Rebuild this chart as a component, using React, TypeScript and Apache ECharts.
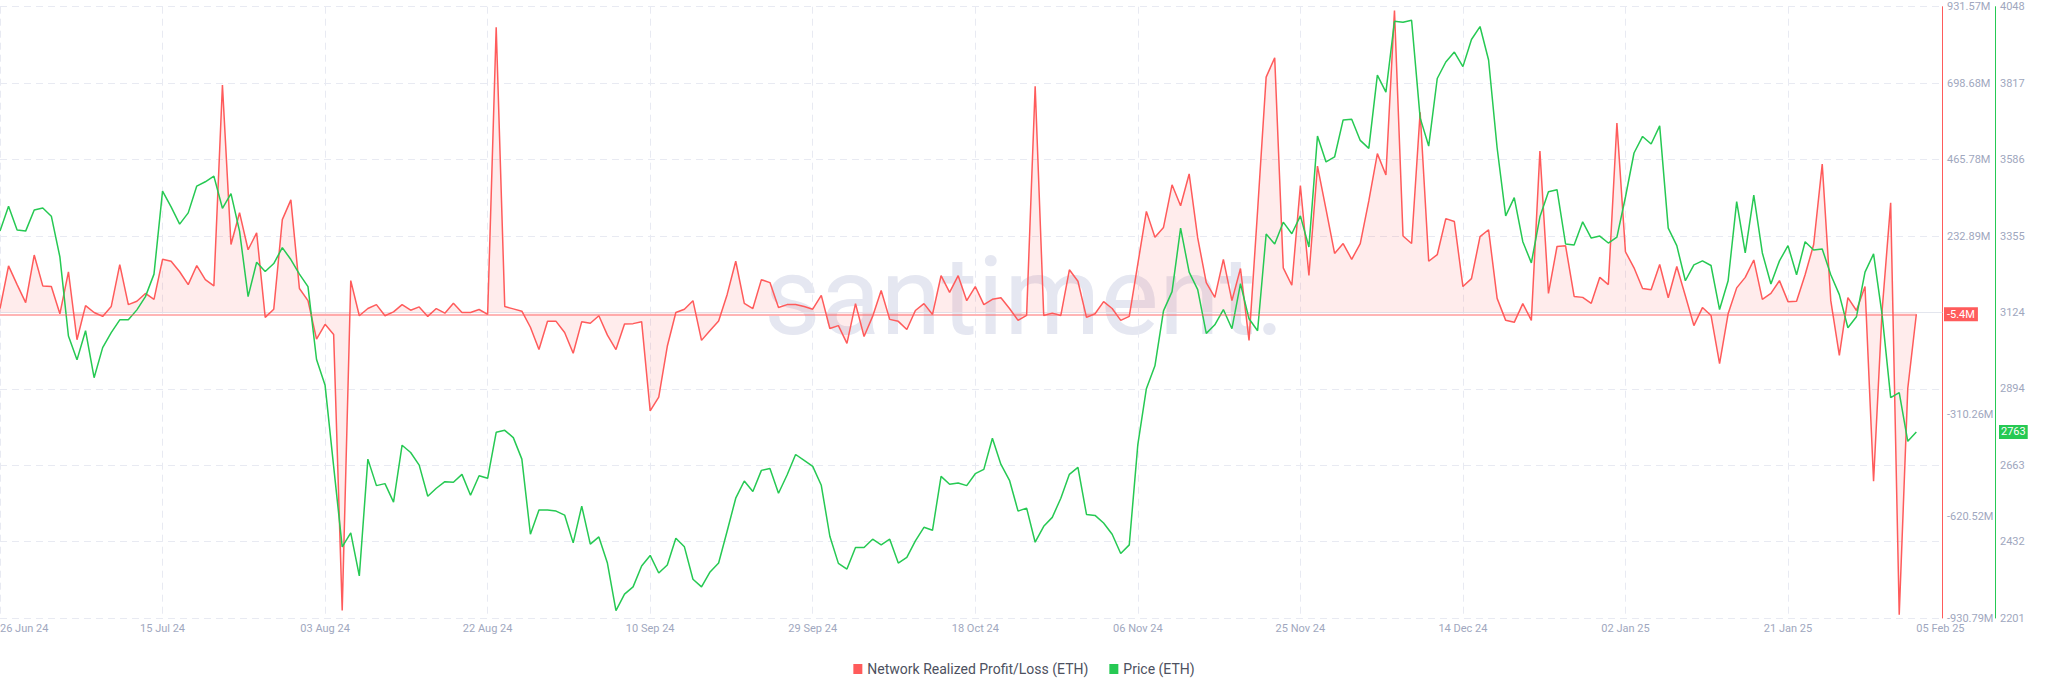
import React, { useEffect, useRef } from "react";
import * as echarts from "echarts";

// ---------- categories (daily, 26 Jun 24 → 08 Feb 25; data ends 05 Feb 25) ----------
const MONTHS = ["Jan", "Feb", "Mar", "Apr", "May", "Jun", "Jul", "Aug", "Sep", "Oct", "Nov", "Dec"];
const START_UTC = Date.UTC(2024, 5, 26);
const AXIS_DAYS = 228;
const categories: string[] = [];
for (let i = 0; i < AXIS_DAYS; i++) {
  const d = new Date(START_UTC + i * 86400000);
  categories.push(
    `${String(d.getUTCDate()).padStart(2, "0")} ${MONTHS[d.getUTCMonth()]} ${String(d.getUTCFullYear()).slice(2)}`
  );
}

const tickLabels = [
  "26 Jun 24", "15 Jul 24", "03 Aug 24", "22 Aug 24", "10 Sep 24", "29 Sep 24", "18 Oct 24",
  "06 Nov 24", "25 Nov 24", "14 Dec 24", "02 Jan 25", "21 Jan 25", "05 Feb 25",
];

// ---------- Network Realized Profit/Loss (ETH), millions ----------
const realizedPL = [
  12, 142, 85, 30, 175, 81, 79, -4, 124, -83,
  21, 0, -12, 18, 146, 24, 34, 58, 40, 162,
  156, 124, 85, 143, 100, 81, 693, 207, 304, 191,
  243, -15, 10, 283, 343, 73, 36, -81, -36, -67,
  -908, 97, -10, 12, 24, -10, 2, 24, 7, 17,
  -12, 12, -2, 28, 0, 0, 9, -6, 869, 18,
  11, 4, -45, -113, -27, -27, -61, -124, -28, -33,
  -10, -69, -113, -35, -34, -28, -300, -258, -103, 0,
  10, 36, -85, -55, -26, 55, 156, 28, 12, 100,
  91, 15, 24, 24, 18, 10, 52, -49, -40, -94,
  27, -73, -12, 67, -21, -27, -52, 6, 27, -6,
  112, 61, 112, 36, 79, 24, 40, 45, 12, -24,
  -9, 689, -9, -2, -9, 130, 95, -15, -4, 33,
  12, -24, -12, 148, 308, 229, 259, 389, 325, 422,
  227, 91, 46, 162, 36, 134, -85, 310, 717, 776,
  136, 83, 387, 113, 446, 314, 180, 210, 162, 210,
  340, 484, 419, 920, 233, 210, 610, 156, 176, 286,
  277, 79, 103, 231, 252, 43, -24, -30, 27, -24,
  492, 58, 201, 203, 49, 46, 28, 107, 85, 577,
  185, 136, 73, 69, 146, 45, 140, 51, -40, 15,
  -9, -156, -4, 75, 107, 160, 40, 58, 97, 33,
  34, 115, 207, 452, 36, -131, 45, 6, 79, -514,
  6, 334, -921, -231, -5.4,
];

// ---------- Price (ETH), USD ----------
const price = [
  3370, 3445, 3373, 3370, 3434, 3440, 3415, 3292, 3053, 2981,
  3069, 2927, 3018, 3063, 3102, 3102, 3132, 3172, 3240, 3491,
  3443, 3391, 3425, 3506, 3519, 3536, 3439, 3483, 3370, 3172,
  3276, 3248, 3272, 3320, 3284, 3240, 3202, 2982, 2904, 2659,
  2416, 2458, 2328, 2681, 2601, 2607, 2551, 2723, 2701, 2663,
  2569, 2593, 2613, 2611, 2635, 2572, 2631, 2623, 2762, 2768,
  2746, 2681, 2454, 2527, 2527, 2524, 2512, 2428, 2539, 2424,
  2446, 2367, 2223, 2273, 2295, 2358, 2390, 2337, 2361, 2442,
  2416, 2318, 2295, 2340, 2367, 2464, 2563, 2615, 2583, 2647,
  2653, 2578, 2633, 2695, 2677, 2659, 2602, 2448, 2366, 2349,
  2414, 2414, 2439, 2422, 2439, 2367, 2384, 2434, 2475, 2466,
  2629, 2605, 2609, 2601, 2637, 2650, 2744, 2665, 2617, 2524,
  2533, 2430, 2478, 2505, 2563, 2635, 2656, 2514, 2511, 2488,
  2454, 2396, 2422, 2725, 2894, 2963, 3129, 3187, 3379, 3246,
  3193, 3061, 3087, 3133, 3075, 3211, 3105, 3069, 3361, 3331,
  3397, 3362, 3416, 3322, 3657, 3579, 3594, 3706, 3708, 3644,
  3620, 3841, 3790, 4004, 4001, 4007, 3712, 3627, 3831, 3881,
  3911, 3867, 3949, 3988, 3887, 3621, 3416, 3471, 3338, 3274,
  3413, 3489, 3495, 3331, 3328, 3398, 3349, 3355, 3334, 3352,
  3473, 3606, 3656, 3633, 3688, 3379, 3326, 3220, 3268, 3280,
  3266, 3133, 3220, 3459, 3304, 3479, 3304, 3210, 3280, 3326,
  3238, 3338, 3313, 3316, 3238, 3178, 3078, 3111, 3246, 3301,
  3117, 2867, 2882, 2735, 2763,
];

// ---------- axis ticks ----------
const plTicks = [931.57, 698.68, 465.78, 232.89, -310.26, -620.52, -930.79];
const plMin = -930.79;
const plMax = 931.57;
const priceTicks = [2201, 2432, 2663, 2894, 3124, 3355, 3586, 3817, 4048];
const priceMin = 2201;
const priceMax = 4048;

const RED = "#ff5b5b";
const GREEN = "#26c953";
const LABEL_GREY = "#a0a7be";
const GRID = "#e8eaf2";
const FONT = "Roboto, 'Noto Sans', sans-serif";

export default function App() {
  const ref = useRef<HTMLDivElement>(null);

  useEffect(() => {
    document.body.style.margin = "0";
    if (!ref.current) return;
    const chart = echarts.init(ref.current, undefined, { renderer: "svg" });
    const lastIdx = realizedPL.length - 1;
    const lastPL = realizedPL[lastIdx];
    const lastPrice = price[price.length - 1];

    const tagLabel = (text: string, bg: string, distance: number, pad: number[]) => ({
      show: true,
      position: "end",
      distance,
      formatter: text,
      color: "#ffffff",
      opacity: 1,
      backgroundColor: bg,
      padding: pad,
      fontSize: 11,
      lineHeight: 12,
      fontFamily: FONT,
    });
    const hiddenLine = { color: "rgba(255,255,255,0)", width: 0.01, opacity: 1, type: "solid" };

    chart.setOption({
      animation: false,
      textStyle: { fontFamily: FONT },
      graphic: [
        {
          type: "text",
          z: 0,
          silent: true,
          style: {
            text: "santiment.",
            x: 764,
            y: 296,
            fontSize: 110,
            fontFamily: FONT,
            fill: "#e5e7f1",
            textAlign: "left",
            textVerticalAlign: "middle",
          },
        },
      ],
      grid: {
        left: 0,
        right: 106,
        top: 6.7,
        bottom: 75,
        containLabel: false,
        outerBoundsMode: "none",
      },
      legend: {
        data: ["Network Realized Profit/Loss (ETH)", "Price (ETH)"],
        left: "center",
        top: 657,
        icon: "rect",
        itemWidth: 9,
        itemHeight: 10,
        itemGap: 21,
        textStyle: { fontSize: 14, color: "#4d5160", fontFamily: FONT },
      },
      xAxis: {
        type: "category",
        data: categories,
        boundaryGap: false,
        axisLine: { show: true, lineStyle: { color: "#e3e6ee", width: 1 } },
        axisTick: { show: false },
        axisLabel: {
          interval: (_i: number, v: string) => tickLabels.includes(v),
          color: LABEL_GREY,
          fontSize: 11,
          margin: 5,
          alignMinLabel: "left",
          alignMaxLabel: "left",
        },
        splitLine: {
          show: true,
          interval: (i: number) => i % 19 === 0,
          lineStyle: { color: GRID, type: [7, 5], width: 1 },
        },
      },
      yAxis: [
        {
          type: "value",
          position: "right",
          min: plMin,
          max: plMax,
          axisLine: { show: true, lineStyle: { color: RED, width: 1 } },
          axisTick: { show: false },
          splitLine: { show: false },
          axisLabel: {
            customValues: plTicks,
            color: LABEL_GREY,
            fontSize: 11,
            margin: 5,
            formatter: (v: number) => `${v.toFixed(2)}M`,
          },
        },
        {
          type: "value",
          position: "right",
          offset: 53,
          min: priceMin,
          max: priceMax,
          interval: (priceMax - priceMin) / 8,
          axisLine: { show: true, lineStyle: { color: GREEN, width: 1 } },
          axisTick: { show: false },
          splitLine: { show: true, lineStyle: { color: GRID, type: [7, 5], width: 1 } },
          axisLabel: {
            customValues: priceTicks,
            color: LABEL_GREY,
            fontSize: 11,
            margin: 5,
            formatter: (v: number) => `${Math.round(v)}`,
          },
        },
      ],
      series: [
        {
          name: "Network Realized Profit/Loss (ETH)",
          type: "line",
          yAxisIndex: 0,
          data: realizedPL,
          symbol: "none",
          clip: false,
          itemStyle: { color: RED },
          lineStyle: { color: RED, width: 1.5 },
          areaStyle: { color: "rgba(255,91,91,0.16)" },
          z: 2,
          markLine: {
            silent: true,
            symbol: "none",
            animation: false,
            label: { show: false },
            lineStyle: { color: "rgba(255,91,91,0.45)", width: 2, type: "solid" },
            data: [
              [
                { coord: [categories[0], lastPL] },
                { coord: [categories[lastIdx], lastPL] },
              ],
            ],
          },
        },
        {
          name: "Price (ETH)",
          type: "line",
          yAxisIndex: 1,
          data: price,
          symbol: "none",
          clip: false,
          itemStyle: { color: GREEN },
          lineStyle: { color: GREEN, width: 1.5 },
          z: 3,
          markLine: {
            silent: true,
            symbol: "none",
            animation: false,
            z: 10,
            lineStyle: hiddenLine,
            label: tagLabel(`${lastPrice}`, GREEN, 57, [1, 2]),
            data: [{ yAxis: lastPrice }],
          },
        },
        {
          name: "lastPL",
          type: "line",
          yAxisIndex: 0,
          data: [],
          symbol: "none",
          clip: false,
          markLine: {
            silent: true,
            symbol: "none",
            animation: false,
            z: 10,
            lineStyle: hiddenLine,
            label: tagLabel(`${lastPL}M`, RED, 2, [1, 3]),
            data: [{ yAxis: lastPL }],
          },
        },
      ],
    });

    return () => chart.dispose();
  }, []);

  return <div ref={ref} style={{ width: 2048, height: 693 }} />;
}
